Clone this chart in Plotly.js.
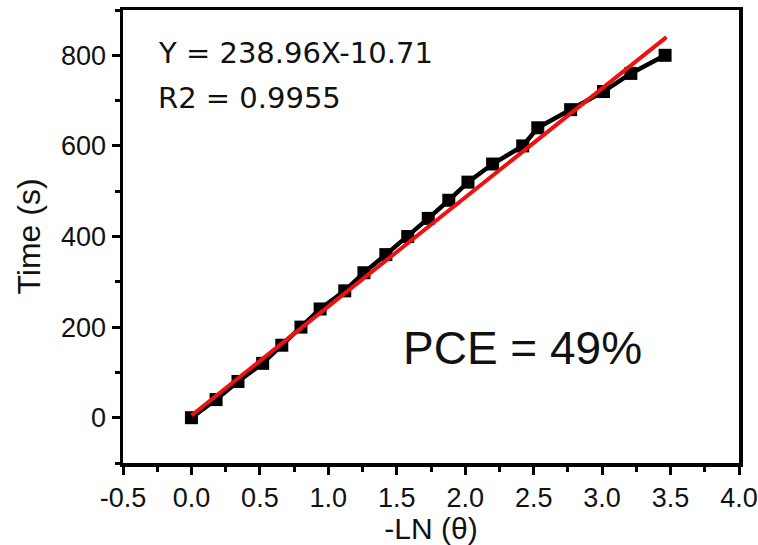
<!DOCTYPE html>
<html>
<head>
<meta charset="utf-8">
<script src="https://cdn.plot.ly/plotly-3.0.1.min.js"></script>
<style>html,body{margin:0;padding:0;background:#fff;}#chart{width:758px;height:545px;}</style>
</head>
<body>
<div id="chart"></div>
<script>
// Measured data: -LN(theta) vs time
const timeS = [0, 40, 80, 120, 160, 200, 240, 280, 320, 360, 400, 440, 480, 520, 560, 600, 640, 680, 720, 760, 800];
const negLnTheta = [0.00, 0.18, 0.34, 0.52, 0.66, 0.80, 0.94, 1.12, 1.26, 1.42, 1.58, 1.73, 1.88, 2.02, 2.20, 2.42, 2.53, 2.77, 3.01, 3.21, 3.46];
// Linear fit line endpoints (as drawn)
const fitX = [0.00, 3.47];
const fitY = [5, 840];
// Tick labels
const xTickVals = [-0.5, 0.0, 0.5, 1.0, 1.5, 2.0, 2.5, 3.0, 3.5, 4.0];
const xTickText = ["-0.5", "0.0", "0.5", "1.0", "1.5", "2.0", "2.5", "3.0", "3.5", "4.0"];
const yTickVals = [0, 200, 400, 600, 800];
const yTickText = ["0", "200", "400", "600", "800"];
const eqText = "Y = 238.96X-10.71";
const r2Text = "R2 = 0.9955";
const pceText = "PCE = 49%";

const font = "Arial, 'Liberation Sans', sans-serif";

const traces = [
  {
    x: negLnTheta, y: timeS, type: 'scatter', mode: 'lines+markers',
    line: {color: '#000', width: 4.5},
    marker: {symbol: 'square', size: 13, color: '#000'},
    showlegend: false, hoverinfo: 'skip'
  },
  {
    x: fitX, y: fitY, type: 'scatter', mode: 'lines',
    line: {color: '#ee1111', width: 4},
    showlegend: false, hoverinfo: 'skip'
  }
];

const axisCommon = {
  showgrid: false, zeroline: false,
  showline: true, linecolor: '#000', linewidth: 3.5, mirror: true,
  ticks: 'outside', ticklen: 8, tickwidth: 3, tickcolor: '#000',
  ticklabeloverflow: 'allow',
  tickfont: {family: font, size: 27, color: '#111'}
};

const layout = {
  width: 758, height: 545,
  margin: {l: 123, r: 19, t: 10, b: 82},
  paper_bgcolor: '#fff', plot_bgcolor: '#fff',
  xaxis: Object.assign({}, axisCommon, {
    range: [-0.5, 4.0], tickmode: 'array', tickvals: xTickVals, ticktext: xTickText,
    minor: {dtick: 0.25, ticks: 'outside', ticklen: 5, tickwidth: 3, tickcolor: '#000'},
    title: {text: '-LN (θ)', font: {family: font, size: 30, color: '#111'}, standoff: 2}
  }),
  yaxis: Object.assign({}, axisCommon, {
    range: [-100, 900], tickmode: 'array', tickvals: yTickVals, ticktext: yTickText,
    minor: {dtick: 100, ticks: 'outside', ticklen: 5, tickwidth: 3, tickcolor: '#000'},
    title: {text: 'Time (s)', font: {family: font, size: 32, color: '#111'}, standoff: 12}
  }),
  annotations: [
    {text: eqText, xref: 'paper', yref: 'paper', x: 0.054, y: 0.905, xanchor: 'left', yanchor: 'middle', showarrow: false,
     font: {family: "'DejaVu Sans', sans-serif", size: 29, color: '#111'}},
    {text: r2Text, xref: 'paper', yref: 'paper', x: 0.054, y: 0.806, xanchor: 'left', yanchor: 'middle', showarrow: false,
     font: {family: "'DejaVu Sans', sans-serif", size: 29, color: '#111'}},
    {text: pceText, xref: 'paper', yref: 'paper', x: 0.452, y: 0.254, xanchor: 'left', yanchor: 'middle', showarrow: false,
     font: {family: font, size: 46, color: '#111'}}
  ]
};

Plotly.newPlot('chart', traces, layout, {displayModeBar: false, staticPlot: true});
</script>
</body>
</html>
